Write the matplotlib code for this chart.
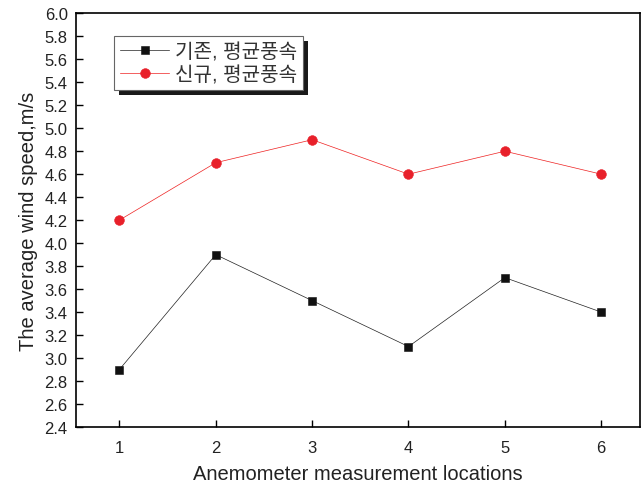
import matplotlib
matplotlib.use("Agg")
import matplotlib.pyplot as plt
from matplotlib.patches import Shadow

# data
locations = [1, 2, 3, 4, 5, 6]
old_mean = [2.9, 3.9, 3.5, 3.1, 3.7, 3.4]
new_mean = [4.2, 4.7, 4.9, 4.6, 4.8, 4.6]
old_label = "기존, 평균풍속"
new_label = "신규, 평균풍속"
y_ticks = [2.4 + 0.2 * i for i in range(19)]

plt.rcParams['font.family'] = ['Liberation Sans', 'Noto Sans CJK KR', 'DejaVu Sans']

fig = plt.figure(figsize=(6.41, 4.85), dpi=100)
ax = fig.add_axes([0.1186, 0.1175, 0.8795, 0.853])

ax.plot(locations, old_mean, color='#202020', lw=0.5, marker='s', ms=5.6, mew=0.4,
        mfc='#111111', mec='#111111', label=old_label)
ax.plot(locations, new_mean, color='#ee2020', lw=0.5, marker='o', ms=7.0, mew=0.4,
        mfc='#e8202a', mec='#e8202a', label=new_label)

ax.set_xlim(0.55, 6.4)
ax.set_ylim(2.4, 6.0)
ax.set_xticks(locations)
ax.set_yticks(y_ticks)
ax.set_yticklabels([f"{v:.1f}" for v in y_ticks])
ax.tick_params(direction='in', length=5, width=1, labelsize=12, colors='black', pad=6)
ax.tick_params(axis='x', pad=9)
ax.tick_params(labelcolor='#222222')
for s in ax.spines.values():
    s.set_linewidth(1.2)

ax.set_xlabel("Anemometer measurement locations", fontsize=14.5, labelpad=7, color='#222222')
ax.set_ylabel("The average wind speed,m/s", fontsize=14.5, labelpad=5, color='#222222')

leg = ax.legend(loc='upper left', bbox_to_anchor=(0.068, 0.945), fontsize=14.5,
                fancybox=False, shadow=False, edgecolor='#666666', framealpha=1,
                handlelength=2.4, borderpad=0.3, labelspacing=0.2,
                handletextpad=0.3, borderaxespad=0, labelcolor='#333333')
leg.get_frame().set_linewidth(0.8)

# shadow offset larger than the legend default
fig.canvas.draw()
sh = Shadow(leg.legendPatch, 3.6, -3.6, facecolor='#1a1a1a', edgecolor='none',
            alpha=1, zorder=leg.get_zorder() - 0.01)
ax.add_artist(sh)

fig.savefig("out.png", dpi=100)
